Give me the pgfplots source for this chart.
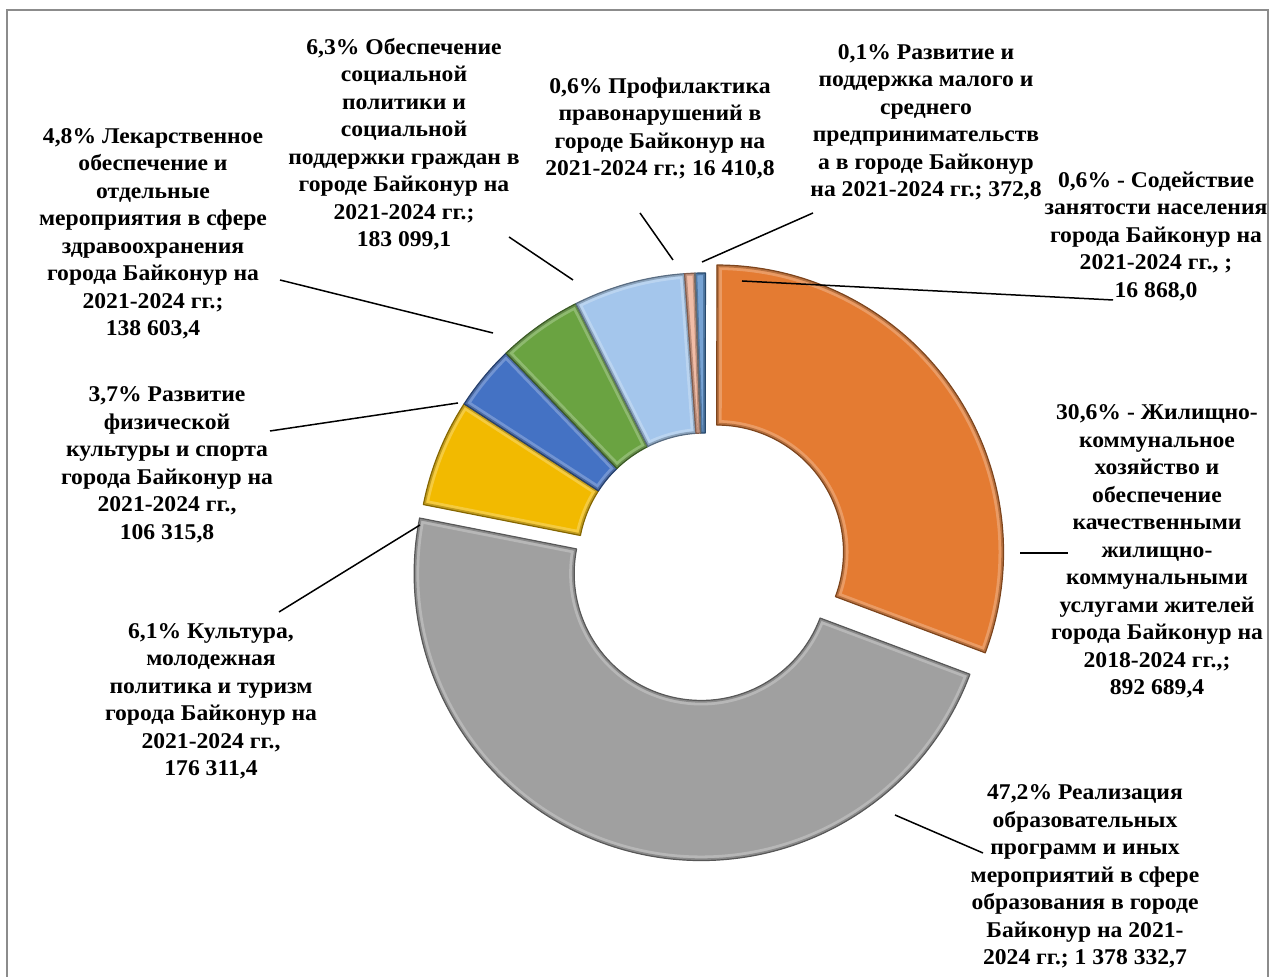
\documentclass[border=0pt]{standalone}
\usepackage{fontspec}
\setmainfont{Liberation Serif}[FakeStretch=1.05]
\usepackage{pgfplots}
\pgfplotsset{compat=1.18}
\usepackage{pgfplotstable}
\usepackage{xfp}

\definecolor{cBlue}{HTML}{4B86C6}
\definecolor{cOrange}{HTML}{E47B32}
\definecolor{cGrey}{HTML}{A0A0A0}
\definecolor{cYellow}{HTML}{F2BA00}
\definecolor{cDBlue}{HTML}{4472C4}
\definecolor{cGreen}{HTML}{6AA341}
\definecolor{cLBlue}{HTML}{A4C6EC}
\definecolor{cPeach}{HTML}{EDA88A}
\definecolor{cLGrey}{HTML}{C0C0C0}

% values, clockwise from 12 o'clock
\pgfplotstableread{
value color explode
16868.0 cBlue 0
892689.4 cOrange 14
1378332.7 cGrey 14
176311.4 cYellow 0
106315.8 cDBlue 0
138603.4 cGreen 0
183099.1 cLBlue 0
16410.8 cPeach 0
372.8 cLGrey 0
}\datatable

\gdef\cumsum{0}
\pgfplotstablegetrowsof{\datatable}
\pgfmathtruncatemacro\lastrow{\pgfplotsretval-1}
\foreach \i in {0,...,\lastrow}{%
  \pgfplotstablegetelem{\i}{value}\of\datatable
  \expandafter\xdef\csname cumstart\i\endcsname{\cumsum}%
  \xdef\cumsum{\fpeval{\cumsum+\pgfplotsretval}}%
}
\let\total\cumsum

\def\cx{705}
\def\cy{417}
\def\Ro{287}
\def\Ri{127}
\def\rot{-2}

\tikzset{lbl/.style={font=\bfseries\fontsize{11.25}{13.75}\selectfont, align=center, inner sep=0pt}}
\pgfplotsset{lead/.style={black, line width=0.75pt, no marks}}

\begin{document}
\begin{tikzpicture}
\begin{axis}[
  x=0.5pt, y=0.5pt,
  xmin=0, xmax=1273, ymin=0, ymax=977,
  hide axis, clip=false,
]
\pgfplotsextra{%
 \foreach \i in {0,...,\lastrow}{%
  \pgfplotstablegetelem{\i}{value}\of\datatable \edef\v{\pgfplotsretval}%
  \pgfplotstablegetelem{\i}{color}\of\datatable \edef\col{\pgfplotsretval}%
  \pgfplotstablegetelem{\i}{explode}\of\datatable \edef\ex{\pgfplotsretval}%
  \edef\s{\csname cumstart\i\endcsname}%
  \edef\aA{\fpeval{round(90-\rot-360*\s/\total,4)}}%
  \edef\aB{\fpeval{round(90-\rot-360*(\s+\v)/\total,4)}}%
  \edef\aM{\fpeval{(\aA+\aB)/2}}%
  \edef\ox{\fpeval{\cx+\ex*cosd(\aM)}}%
  \edef\oy{\fpeval{\cy+\ex*sind(\aM)}}%
  \edef\xA{\fpeval{round(\ox+\Ro*cosd(\aA),3)}}%
  \edef\yA{\fpeval{round(\oy+\Ro*sind(\aA),3)}}%
  \edef\xB{\fpeval{round(\ox+\Ri*cosd(\aB),3)}}%
  \edef\yB{\fpeval{round(\oy+\Ri*sind(\aB),3)}}%
  \def\slicepath{(axis cs:\xA,\yA) arc[start angle=\aA, end angle=\aB, radius=\Ro*0.5pt]
    -- (axis cs:\xB,\yB) arc[start angle=\aB, end angle=\aA, radius=\Ri*0.5pt] -- cycle}%
  \fill[\col] \slicepath;
  \begin{scope}
    \clip \slicepath;
    \draw[\col!55!white, opacity=0.55, line width=5pt, line join=round] \slicepath;
    \draw[\col!60!black, opacity=0.5, line width=2.2pt, line join=round] \slicepath;
  \end{scope}
  \draw[\col!55!black, line width=0.6pt, line join=round] \slicepath;
 }%
}

% leader lines
\addplot[lead] coordinates {(280,697) (493,644)};
\addplot[lead] coordinates {(509,740) (573,697)};
\addplot[lead] coordinates {(640,764) (673,717)};
\addplot[lead] coordinates {(813,764) (702,715)};
\addplot[lead] coordinates {(742,696) (1113,677)};
\addplot[lead] coordinates {(1020,424) (1068,424)};
\addplot[lead] coordinates {(895,162) (983,124)};
\addplot[lead] coordinates {(279,365) (420,452)};
\addplot[lead] coordinates {(270,546) (458,574)};

% labels
\node[lbl] at (axis cs:153,743) {4,8\% Лекарственное\\обеспечение и\\отдельные\\мероприятия в сфере\\здравоохранения\\города Байконур на\\2021-2024 гг.;\\138 603,4};
\node[lbl] at (axis cs:404,833) {6,3\% Обеспечение\\социальной\\политики и\\социальной\\поддержки граждан в\\городе Байконур на\\2021-2024 гг.;\\183 099,1};
\node[lbl] at (axis cs:660,848.5) {0,6\% Профилактика\\правонарушений в\\городе Байконур на\\2021-2024 гг.; 16 410,8};
\node[lbl] at (axis cs:926,854.5) {0,1\% Развитие и\\поддержка малого и\\среднего\\предпринимательств\\а в городе Байконур\\на 2021-2024 гг.; 372,8};
\node[lbl] at (axis cs:1156,740.5) {0,6\% - Содействие\\занятости населения\\города Байконур на\\2021-2024 гг., ;\\16 868,0};
\node[lbl] at (axis cs:1157,425.5) {30,6\% - Жилищно-\\коммунальное\\хозяйство и\\обеспечение\\качественными\\жилищно-\\коммунальными\\услугами жителей\\города Байконур на\\2018-2024 гг.,;\\892 689,4};
\node[lbl] at (axis cs:1085,100.5) {47,2\% Реализация\\образовательных\\программ и иных\\мероприятий в сфере\\образования в городе\\Байконур на 2021-\\2024 гг.; 1 378 332,7};
\node[lbl] at (axis cs:211,275.5) {6,1\% Культура,\\молодежная\\политика и туризм\\города Байконур на\\2021-2024 гг.,\\176 311,4};
\node[lbl] at (axis cs:167,512) {3,7\% Развитие\\физической\\культуры и спорта\\города Байконур на\\2021-2024 гг.,\\106 315,8};

% chart area frame
\draw[color=black!45, line width=1pt] (axis cs:7,-10) -- (axis cs:7,967) -- (axis cs:1268,967) -- (axis cs:1268,-10);
\coordinate (bl) at (axis cs:0,0);
\coordinate (tr) at (axis cs:1273,977);
\end{axis}
\pgfresetboundingbox
\path (bl) rectangle (tr);
\end{tikzpicture}
\end{document}
